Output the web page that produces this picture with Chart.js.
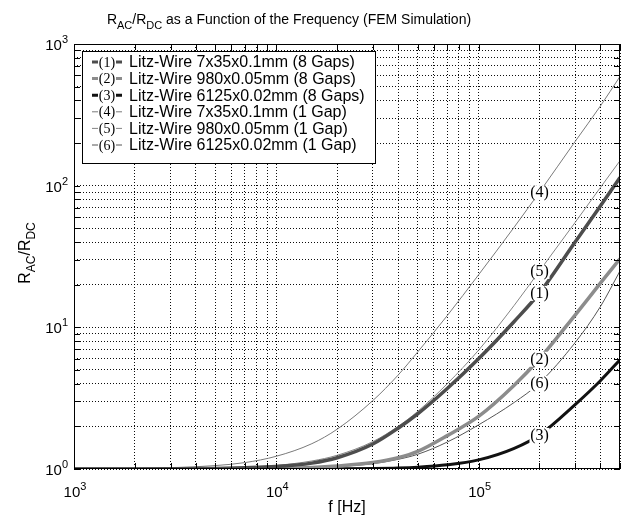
<!DOCTYPE html>
<html>
<head>
<meta charset="utf-8">
<script src="https://cdn.jsdelivr.net/npm/chart.js@4.4.0/dist/chart.umd.min.js"></script>
<style>
  html, body { margin: 0; padding: 0; background: #fff; }
</style>
</head>
<body>
<canvas id="rac-chart" width="622" height="522"></canvas>
<script>
// frequency points (Hz)
var freq = [1e3, 1.5e3, 2e3, 3e3, 5e3, 7e3, 1e4, 1.5e4, 2e4, 3e4, 4e4, 5e4, 7e4, 1e5, 1.5e5, 2e5, 3e5, 4e5, 5e5];

var seriesLabels = [
  'Litz-Wire 7x35x0.1mm (8 Gaps)',
  'Litz-Wire 980x0.05mm (8 Gaps)',
  'Litz-Wire 6125x0.02mm (8 Gaps)',
  'Litz-Wire 7x35x0.1mm (1 Gap)',
  'Litz-Wire 980x0.05mm (1 Gap)',
  'Litz-Wire 6125x0.02mm (1 Gap)'
];
var tags = ['(1)', '(2)', '(3)', '(4)', '(5)', '(6)'];

// R_AC/R_DC values, one per freq point
var rac1 = [1.0, 1.0, 1.001, 1.003, 1.01, 1.02, 1.04, 1.1, 1.2, 1.5, 1.94, 2.45, 3.7, 6.0, 11.0, 17.5, 40, 72, 114];
var rac2 = [1.0, 1.0, 1.0, 1.0, 1.002, 1.005, 1.01, 1.025, 1.05, 1.11, 1.2, 1.33, 1.72, 2.35, 3.9, 6.0, 12.2, 20.5, 30.5];
var rac3 = [1.0, 1.0, 1.0, 1.0, 1.0, 1.0, 1.001, 1.002, 1.004, 1.009, 1.017, 1.03, 1.07, 1.16, 1.4, 1.74, 2.85, 4.2, 5.9];
var rac4 = [1.002, 1.005, 1.009, 1.02, 1.057, 1.11, 1.23, 1.51, 1.91, 3.04, 4.6, 6.7, 12.1, 23.5, 51, 90, 205, 365, 590];
var rac5 = [1.0, 1.001, 1.002, 1.005, 1.015, 1.03, 1.06, 1.14, 1.25, 1.56, 2.0, 2.55, 4.0, 6.9, 14.3, 25, 55, 97, 150];
var rac6 = [1.0, 1.0, 1.0, 1.0, 1.002, 1.004, 1.01, 1.02, 1.04, 1.09, 1.17, 1.27, 1.55, 2.05, 2.95, 4.05, 7.8, 14, 25];

var lineColors = ['#4d4d4d', '#8c8c8c', '#111111', '#7a7a7a', '#858585', '#555555'];
var lineWidths = [3.5, 3.5, 3, 1, 1, 1];

// grid / tick positions
var xTicks = [1e3, 2e3, 3e3, 4e3, 5e3, 6e3, 7e3, 8e3, 9e3,
              1e4, 2e4, 3e4, 4e4, 5e4, 6e4, 7e4, 8e4, 9e4,
              1e5, 2e5, 3e5, 4e5, 5e5];
var yTicks = [1, 2, 3, 4, 5, 6, 7, 8, 9,
              10, 20, 30, 40, 50, 60, 70, 80, 90,
              100, 200, 300, 400, 500, 600, 700, 800, 900, 1000];
var xLabelExp = [3, 4, 5];
var yLabelExp = [0, 1, 2, 3];
var tagFreq = 2e5;

var SANS = '"Liberation Sans", Arial, Helvetica, sans-serif';
var SERIF = '"Liberation Serif", "Times New Roman", serif';

function richText(ctx, parts, x, y, align) {
  var total = 0;
  parts.forEach(function (p) {
    ctx.font = p[1] + 'px ' + SANS;
    total += ctx.measureText(p[0]).width;
  });
  var cx = align === 'center' ? x - total / 2 : (align === 'right' ? x - total : x);
  ctx.textAlign = 'left';
  ctx.textBaseline = 'alphabetic';
  parts.forEach(function (p) {
    ctx.font = p[1] + 'px ' + SANS;
    ctx.fillText(p[0], cx, y + p[2]);
    cx += ctx.measureText(p[0]).width;
  });
}

function makeData(values) {
  return freq.map(function (f, i) { return {x: f, y: values[i]}; });
}

var allSeries = [rac1, rac2, rac3, rac4, rac5, rac6];
var datasets = allSeries.map(function (vals, i) {
  return {
    label: seriesLabels[i],
    data: makeData(vals),
    borderColor: lineColors[i],
    borderWidth: lineWidths[i],
    pointRadius: 0,
    fill: false,
    cubicInterpolationMode: 'monotone'
  };
});

var decor = {
  id: 'decor',
  afterDraw: function (chart) {
    var ctx = chart.ctx, a = chart.chartArea;
    var xs = chart.scales.x, ys = chart.scales.y;
    ctx.save();

    // frame
    ctx.strokeStyle = '#000';
    ctx.lineWidth = 1;
    ctx.setLineDash([]);
    ctx.strokeRect(a.left + 0.5, a.top + 0.5, a.right - a.left - 1, a.bottom - a.top - 1);

    // inward tick marks on all four sides
    ctx.beginPath();
    xTicks.forEach(function (v) {
      var px = Math.round(xs.getPixelForValue(v)) + 0.5;
      ctx.moveTo(px, a.bottom); ctx.lineTo(px, a.bottom - 6);
      ctx.moveTo(px, a.top); ctx.lineTo(px, a.top + 6);
    });
    yTicks.forEach(function (v) {
      var py = Math.round(ys.getPixelForValue(v)) + 0.5;
      ctx.moveTo(a.left, py); ctx.lineTo(a.left + 6, py);
      ctx.moveTo(a.right, py); ctx.lineTo(a.right - 6, py);
    });
    ctx.stroke();

    // tags on the curves
    var idx = freq.indexOf(tagFreq);
    ctx.font = '16px ' + SERIF;
    ctx.textAlign = 'center';
    ctx.textBaseline = 'middle';
    chart.data.datasets.forEach(function (ds, i) {
      var pt = chart.getDatasetMeta(i).data[idx];
      ctx.fillStyle = '#fff';
      ctx.fillRect(pt.x - 10, pt.y - 7, 20, 15);
      ctx.fillStyle = '#000';
      ctx.fillText(tags[i], pt.x, pt.y + 1);
    });

    // legend box
    var lx = 82, ly = 51, lw = 293, lh = 112;
    ctx.fillStyle = '#fff';
    ctx.fillRect(lx, ly, lw, lh);
    ctx.strokeStyle = '#000';
    ctx.lineWidth = 1;
    ctx.strokeRect(lx + 0.5, ly + 0.5, lw, lh);
    chart.data.datasets.forEach(function (ds, i) {
      var ry = 62 + i * 16.6;
      ctx.strokeStyle = ds.borderColor;
      ctx.lineWidth = Math.min(ds.borderWidth, 3);
      ctx.beginPath();
      ctx.moveTo(92, ry); ctx.lineTo(98, ry);
      ctx.moveTo(116, ry); ctx.lineTo(122, ry);
      ctx.stroke();
      ctx.fillStyle = '#000';
      ctx.font = '14px ' + SERIF;
      ctx.textAlign = 'center';
      ctx.textBaseline = 'middle';
      ctx.fillText(tags[i], 107, ry + 1);
      ctx.font = '16px ' + SANS;
      ctx.textAlign = 'left';
      ctx.fillText(ds.label, 129, ry + 1);
    });

    // tick labels
    ctx.fillStyle = '#000';
    yLabelExp.forEach(function (e) {
      var py = ys.getPixelForValue(Math.pow(10, e));
      richText(ctx, [['10', 15, 0], [String(e), 11, -7]], 68, py + 6, 'right');
    });
    xLabelExp.forEach(function (e) {
      var px = xs.getPixelForValue(Math.pow(10, e));
      richText(ctx, [['10', 15, 0], [String(e), 11, -7]], px + 1, 497, 'center');
    });

    // axis titles and chart title
    richText(ctx, [['f [Hz]', 16, 0]], (a.left + a.right) / 2, 512, 'center');
    ctx.save();
    ctx.translate(30, 253);
    ctx.rotate(-Math.PI / 2);
    richText(ctx, [['R', 16, 0], ['AC', 12, 5], ['/R', 16, 0], ['DC', 12, 5]], 0, 0, 'center');
    ctx.restore();
    richText(ctx, [['R', 14, 0], ['AC', 11, 5], ['/R', 14, 0], ['DC', 11, 5],
                   [' as a Function of the Frequency (FEM Simulation)', 14, 0]], 289, 24, 'center');

    ctx.restore();
  }
};

function fixTicks(list) {
  return function (scale) {
    scale.ticks = list.map(function (v) { return {value: v}; });
  };
}

var gridOpts = {
  display: true,
  drawTicks: false,
  color: 'rgba(0,0,0,0.95)',
  lineWidth: 1
};

new Chart(document.getElementById('rac-chart').getContext('2d'), {
  type: 'line',
  data: {datasets: datasets},
  options: {
    responsive: false,
    animation: false,
    layout: {padding: {left: 74, right: 2, top: 44, bottom: 53}},
    plugins: {
      legend: {display: false},
      title: {display: false},
      tooltip: {enabled: false}
    },
    scales: {
      x: {
        type: 'logarithmic',
        min: 1e3,
        max: 5e5,
        afterBuildTicks: fixTicks(xTicks),
        ticks: {display: false, autoSkip: false},
        grid: gridOpts,
        border: {display: false, dash: [1, 2]}
      },
      y: {
        type: 'logarithmic',
        min: 1,
        max: 1000,
        afterBuildTicks: fixTicks(yTicks),
        ticks: {display: false, autoSkip: false},
        grid: gridOpts,
        border: {display: false, dash: [1, 2]}
      }
    }
  },
  plugins: [decor]
});
</script>
</body>
</html>
